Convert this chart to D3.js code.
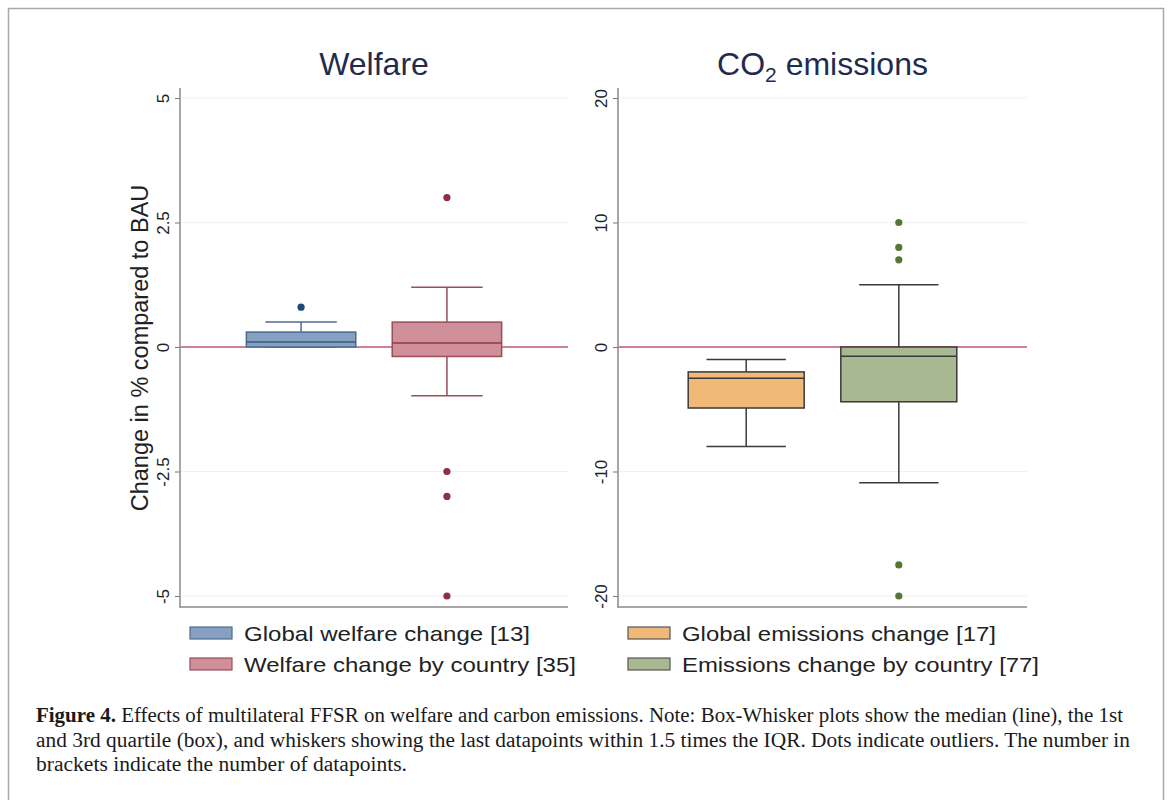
<!DOCTYPE html>
<html>
<head>
<meta charset="utf-8">
<script src="https://cdn.jsdelivr.net/npm/d3@7"></script>
<style>
  html, body { margin: 0; padding: 0; background: #fff; }
  svg { display: block; }
</style>
</head>
<body>
<svg id="chart" width="1169" height="800"></svg>
<script>
// ---------------- DATA ----------------
const panelTitles = ["Welfare", "CO2 emissions"];
const welfareCategories = ["Global welfare change [13]", "Welfare change by country [35]"];
const emissionsCategories = ["Global emissions change [17]", "Emissions change by country [77]"];

const welfareTicks = [-5, -2.5, 0, 2.5, 5];
const welfareTickLabels = ["-5", "-2.5", "0", "2.5", "5"];
const emissionsTicks = [-20, -10, 0, 10, 20];
const emissionsTickLabels = ["-20", "-10", "0", "10", "20"];

// welfare box stats: [global, by country]
const welfareWhiskerLow  = [0.0, -0.98];
const welfareQ1          = [0.0, -0.19];
const welfareMedian      = [0.1, 0.08];
const welfareQ3          = [0.3, 0.5];
const welfareWhiskerHigh = [0.5, 1.2];
const welfareOutliers    = [[0.8], [3.0, -2.5, -3.0, -5.0]];

// emissions box stats: [global, by country]
const emissionsWhiskerLow  = [-8.0, -10.9];
const emissionsQ1          = [-4.9, -4.4];
const emissionsMedian      = [-2.5, -0.75];
const emissionsQ3          = [-2.0, 0.0];
const emissionsWhiskerHigh = [-1.0, 5.0];
const emissionsOutliers    = [[], [10, 8, 7, -17.5, -20]];

const yAxisTitle = "Change in % compared to BAU";
const captionBold = "Figure 4.";
const captionLines = [
  " Effects of multilateral FFSR on welfare and carbon emissions. Note: Box-Whisker plots show the median (line), the 1st",
  "and 3rd quartile (box), and whiskers showing the last datapoints within 1.5 times the IQR. Dots indicate outliers. The number in",
  "brackets indicate the number of datapoints."
];

// ---------------- STYLE ----------------
const boxStyles = [
  { fill: "#86a0c2", stroke: "#4d6c92", median: "#3b5a82", whisker: "#4d6c92", dot: "#1c4a78" },
  { fill: "#cf9099", stroke: "#9c4d5a", median: "#8c3d4a", whisker: "#9c4d5a", dot: "#8e3040" },
  { fill: "#f1b978", stroke: "#3a3a3a", median: "#3a3a3a", whisker: "#3a3a3a", dot: "#c07a2a" },
  { fill: "#a8b992", stroke: "#3a3a3a", median: "#3a3a3a", whisker: "#3a3a3a", dot: "#567536" }
];
const sansFont = "'Liberation Sans', Arial, Helvetica, sans-serif";
const serifFont = "'Liberation Serif', 'Times New Roman', serif";

const svg = d3.select("#chart");

// outer frame
svg.append("rect").attr("x", 8.5).attr("y", 8.5).attr("width", 1155).attr("height", 800)
  .attr("fill", "#fff").attr("stroke", "#a8a8a8").attr("stroke-width", 1.5);

const plotTop = 88, plotBottom = 607;

function drawPanel(cfg) {
  const g = svg.append("g");
  const y = d3.scaleLinear().domain(cfg.domain).range([596, 98]);
  const x = d3.scalePoint().domain(cfg.categories).range([cfg.left, cfg.right]).padding(cfg.padding);
  const step = x.step();

  // grid lines
  g.append("g").selectAll("line").data(cfg.ticks.filter(t => t !== 0)).join("line")
    .attr("x1", cfg.left).attr("x2", cfg.right)
    .attr("y1", d => y(d)).attr("y2", d => y(d))
    .attr("stroke", "#edf2f2").attr("stroke-width", 1);

  // zero reference line
  g.append("line").attr("x1", cfg.left).attr("x2", cfg.right)
    .attr("y1", y(0)).attr("y2", y(0))
    .attr("stroke", "#c25677").attr("stroke-width", 1.3);

  // axes
  const axis = d3.axisLeft(y).tickValues(cfg.ticks).tickSize(5)
    .tickFormat((d, i) => cfg.tickLabels[i]);
  const ag = g.append("g").attr("transform", `translate(${cfg.left},0)`).call(axis);
  ag.select(".domain").remove();
  ag.selectAll(".tick line").attr("stroke", "#777");
  ag.selectAll(".tick text")
    .attr("x", 0).attr("dy", 0)
    .attr("transform", "translate(-11,0) rotate(-90)")
    .attr("text-anchor", "middle")
    .attr("font-family", sansFont).attr("font-size", 17).attr("fill", "#222");
  g.append("line").attr("x1", cfg.left).attr("x2", cfg.left)
    .attr("y1", plotTop).attr("y2", plotBottom).attr("stroke", "#8a8a8a").attr("stroke-width", 1.5);
  g.append("line").attr("x1", cfg.left - 1).attr("x2", cfg.right)
    .attr("y1", plotBottom).attr("y2", plotBottom).attr("stroke", "#8a8a8a").attr("stroke-width", 1.5);

  // boxes
  cfg.categories.forEach((c, i) => {
    const st = boxStyles[cfg.styleOffset + i];
    const cx = x(c);
    const bw = step * cfg.boxRatio;
    const cw = step * cfg.capRatio;
    const bg = g.append("g");
    // whiskers
    bg.append("line").attr("x1", cx).attr("x2", cx)
      .attr("y1", y(cfg.q3[i])).attr("y2", y(cfg.hi[i])).attr("stroke", st.whisker).attr("stroke-width", 1.5);
    bg.append("line").attr("x1", cx).attr("x2", cx)
      .attr("y1", y(cfg.q1[i])).attr("y2", y(cfg.lo[i])).attr("stroke", st.whisker).attr("stroke-width", 1.5);
    bg.append("line").attr("x1", cx - cw / 2).attr("x2", cx + cw / 2)
      .attr("y1", y(cfg.hi[i])).attr("y2", y(cfg.hi[i])).attr("stroke", st.whisker).attr("stroke-width", 1.5);
    bg.append("line").attr("x1", cx - cw / 2).attr("x2", cx + cw / 2)
      .attr("y1", y(cfg.lo[i])).attr("y2", y(cfg.lo[i])).attr("stroke", st.whisker).attr("stroke-width", 1.5);
    // box
    bg.append("rect").attr("x", cx - bw / 2).attr("width", bw)
      .attr("y", y(cfg.q3[i])).attr("height", y(cfg.q1[i]) - y(cfg.q3[i]))
      .attr("fill", st.fill).attr("stroke", st.stroke).attr("stroke-width", 1.5);
    bg.append("line").attr("x1", cx - bw / 2).attr("x2", cx + bw / 2)
      .attr("y1", y(cfg.median[i])).attr("y2", y(cfg.median[i]))
      .attr("stroke", st.median).attr("stroke-width", 1.5);
    // outliers
    bg.selectAll("circle").data(cfg.outliers[i]).join("circle")
      .attr("cx", cx).attr("cy", d => y(d)).attr("r", 3.6).attr("fill", st.dot);
  });

  // title
  const t = g.append("text").attr("x", (cfg.left + cfg.right) / 2).attr("y", 75)
    .attr("text-anchor", "middle").attr("font-family", sansFont).attr("font-size", 32)
    .attr("fill", "#1f2c4f");
  if (cfg.title === "CO2 emissions") {
    t.append("tspan").text("CO");
    t.append("tspan").attr("font-size", 21).attr("dy", 7).text("2");
    t.append("tspan").attr("dy", -7).text(" emissions");
  } else {
    t.text(cfg.title);
  }
}

drawPanel({
  title: panelTitles[0], categories: welfareCategories, domain: [-5, 5],
  ticks: welfareTicks, tickLabels: welfareTickLabels,
  left: 180, right: 568, padding: 0.83, boxRatio: 0.75, capRatio: 0.49, styleOffset: 0,
  lo: welfareWhiskerLow, q1: welfareQ1, median: welfareMedian, q3: welfareQ3, hi: welfareWhiskerHigh,
  outliers: welfareOutliers
});
drawPanel({
  title: panelTitles[1], categories: emissionsCategories, domain: [-20, 20],
  ticks: emissionsTicks, tickLabels: emissionsTickLabels,
  left: 618, right: 1027, padding: 0.84, boxRatio: 0.76, capRatio: 0.52, styleOffset: 2,
  lo: emissionsWhiskerLow, q1: emissionsQ1, median: emissionsMedian, q3: emissionsQ3, hi: emissionsWhiskerHigh,
  outliers: emissionsOutliers
});

// y axis title
svg.append("text").attr("transform", "translate(148,348) rotate(-90)")
  .attr("text-anchor", "middle").attr("font-family", sansFont).attr("font-size", 23.5)
  .attr("fill", "#222").text(yAxisTitle);

// legend
const legendItems = [
  { label: welfareCategories[0], style: boxStyles[0], x: 190, y: 627 },
  { label: welfareCategories[1], style: boxStyles[1], x: 190, y: 658 },
  { label: emissionsCategories[0], style: boxStyles[2], x: 628, y: 627 },
  { label: emissionsCategories[1], style: boxStyles[3], x: 628, y: 658 }
];
const legendWidths = [286, 332, 314, 357];
const lg = svg.append("g");
legendItems.forEach((d, i) => {
  lg.append("rect").attr("x", d.x).attr("y", d.y).attr("width", 42).attr("height", 12)
    .attr("fill", d.style.fill).attr("stroke", d.style.stroke === "#3a3a3a" ? "#555" : d.style.stroke)
    .attr("stroke-width", 1.2);
  lg.append("text").attr("x", d.x + 54).attr("y", d.y + 14)
    .attr("font-family", sansFont).attr("font-size", 21).attr("fill", "#222")
    .attr("textLength", legendWidths[i]).attr("lengthAdjust", "spacingAndGlyphs")
    .text(d.label);
});

// caption
const capY = [722, 747, 771];
const capW = [1087, 1094, 371];
captionLines.forEach((line, i) => {
  const t = svg.append("text").attr("x", 36).attr("y", capY[i])
    .attr("font-family", serifFont).attr("font-size", 20.5).attr("fill", "#1a1a1a");
  if (i === 0) {
    t.append("tspan").attr("font-weight", "bold").text(captionBold);
  }
  t.append("tspan").text(line);
  t.attr("textLength", capW[i]).attr("lengthAdjust", "spacingAndGlyphs");
});
</script>
</body>
</html>
